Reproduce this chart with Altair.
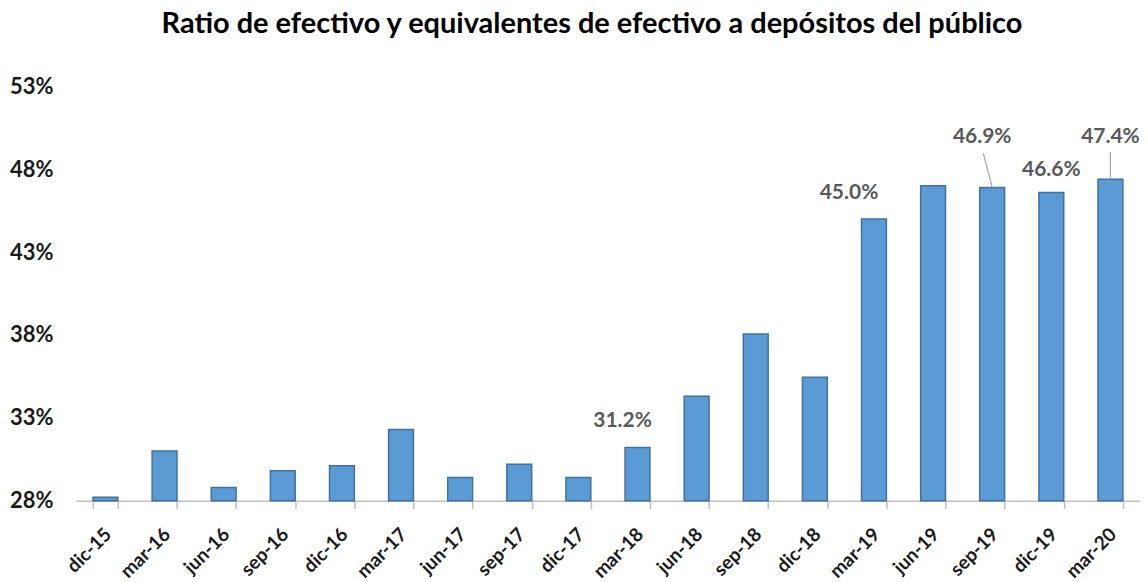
import altair as alt
import pandas as pd

categories = ["dic-15", "mar-16", "jun-16", "sep-16", "dic-16", "mar-17", "jun-17", "sep-17", "dic-17",
              "mar-18", "jun-18", "sep-18", "dic-18", "mar-19", "jun-19", "sep-19", "dic-19", "mar-20"]
values = [28.2, 31.0, 28.8, 29.8, 30.1, 32.3, 29.4, 30.2, 29.4,
          31.2, 34.3, 38.05, 35.45, 45.0, 47.0, 46.9, 46.6, 47.4]
y_ticks = [28, 33, 38, 43, 48, 53]

df = pd.DataFrame({"cat": categories, "val": values})

W, H = 1066, 415
FONT = "Lato"

x_enc = alt.X("cat:N", sort=categories, title=None,
              scale=alt.Scale(paddingInner=0.58, paddingOuter=0.29),
              axis=alt.Axis(labelAngle=-45, labelFont=FONT, labelFontWeight="bold", labelFontSize=19,
                            labelColor="#1a1a1a", domainColor="#bfbfbf", domainWidth=1.5,
                            tickColor="#bfbfbf", tickWidth=1.5, tickSize=8, tickBand="extent",
                            labelPadding=16, labelOffset=-4))
y_enc = alt.Y("val:Q", title=None,
              scale=alt.Scale(domain=[y_ticks[0], y_ticks[-1]], nice=False, zero=False),
              axis=alt.Axis(values=y_ticks, labelExpr="datum.value + '%'", grid=False, domain=False,
                            ticks=False, labelFont=FONT, labelFontWeight="bold", labelFontSize=22,
                            labelColor="#1a1a1a", labelPadding=23))

x_plain = alt.X("cat:N", sort=categories)
y_plain = alt.Y("val:Q")

base = alt.Chart(df)

bars = base.mark_bar(color="#5B9BD5", stroke="#41719C", strokeWidth=1.5).encode(
    x=x_enc, y=y_enc, y2=alt.datum(y_ticks[0]))


def label_text(cat, dx, dy):
    return base.transform_filter(alt.datum.cat == cat).transform_calculate(
        t="format(datum.val, '.1f') + '%'"
    ).mark_text(
        font=FONT, fontWeight="bold", fontSize=21, color="#595959", dx=dx, dy=dy, baseline="middle"
    ).encode(x=x_plain, y=y_plain, text="t:N")


labels = [
    label_text("mar-18", -15, -27),
    label_text("mar-19", -25, -26),
    label_text("sep-19", -10, -51),
    label_text("dic-19", 0, -22),
    label_text("mar-20", 0, -42),
]

lead1 = base.transform_filter(alt.datum.cat == "sep-19").mark_rule(color="#a6a6a6", strokeWidth=1.2).encode(
    x=x_plain, y=y_plain, x2=alt.value(909), y2=alt.value(67))
lead2 = base.transform_filter(alt.datum.cat == "mar-20").mark_rule(color="#a6a6a6", strokeWidth=1.2).encode(
    x=x_plain, y=y_plain, y2=alt.value(66))

chart = alt.layer(bars, lead1, lead2, *labels).properties(
    width=W, height=H,
    background="white",
    title=alt.TitleParams("Ratio de efectivo y equivalentes de efectivo a depósitos del público",
                          font=FONT, fontSize=29, fontWeight="bold", color="#000000",
                          anchor="middle", offset=13, dx=-16, baseline="alphabetic"),
    autosize=alt.AutoSizeParams(type="none"),
    padding={"left": 68, "top": 78, "right": 0, "bottom": 80},
).configure_view(stroke="transparent", strokeWidth=0)

chart.save("out.html", embed_options={"renderer": "svg", "actions": False})
